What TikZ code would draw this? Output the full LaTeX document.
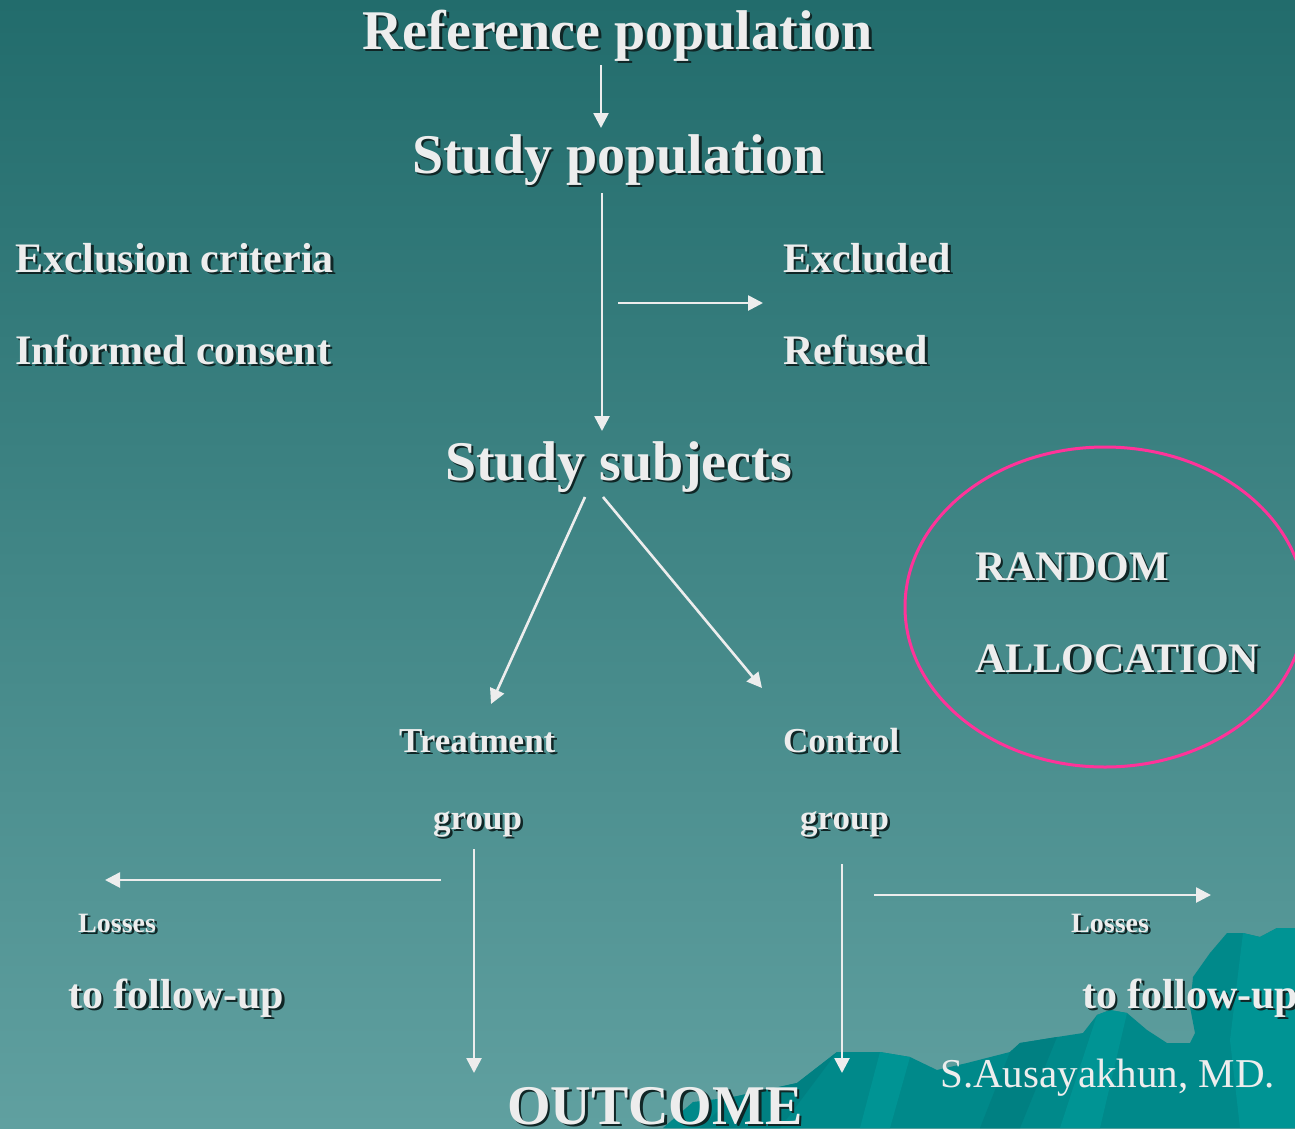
\documentclass[tikz,border=0pt]{standalone}
\usepackage{fontspec}
\setmainfont{Liberation Serif}
\usetikzlibrary{arrows.meta}
\definecolor{bgtop}{RGB}{34,108,108}
\definecolor{bgbot}{RGB}{96,160,160}
\definecolor{ink}{RGB}{237,237,237}
\definecolor{shade}{RGB}{16,38,38}
\definecolor{hill}{RGB}{0,137,138}
\definecolor{hilllight}{RGB}{0,148,148}
\definecolor{hilldark}{RGB}{0,128,130}
\definecolor{ring}{RGB}{255,51,153}
% text with a dark drop shadow to the lower right
\newcommand{\shadowed}[1]{\rlap{\kern2.5pt\raisebox{-2.5pt}{\color{shade}#1}}#1}
\tikzset{
  lbl/.style={anchor=base west, inner sep=0pt, text=ink, font=\bfseries\fontsize{#1}{#1}\selectfont},
  flow/.style={draw=ink, line width=2.6pt, -{Triangle[length=15pt,width=15pt]}},
}
\begin{document}
\begin{tikzpicture}[x=1pt,y=-1pt]
\useasboundingbox (0,0) rectangle (1295,1128);
\clip (0,0) rectangle (1295,1128);
% background
\shade[top color=bgtop, bottom color=bgbot] (0,0) rectangle (1295,1128);
% hills in the lower right corner
\fill[hill] (663,1128) -- (693,1102) -- (733,1097) -- (797,1083) -- (837,1052)
  -- (880,1052) -- (910,1057) -- (937,1070) -- (967,1063) -- (1010,1052)
  -- (1020,1043) -- (1057,1037) -- (1083,1033) -- (1097,1015) -- (1110,1010)
  -- (1127,1013) -- (1147,1030) -- (1167,1043) -- (1190,1043) -- (1195,1033)
  -- (1190,1007) -- (1193,977) -- (1210,953) -- (1227,933) -- (1243,933)
  -- (1260,937) -- (1277,928) -- (1295,928) -- (1295,1128) -- cycle;
\fill[hilllight] (880,1052) -- (910,1057) -- (890,1128) -- (860,1128) -- cycle;
\fill[hilllight] (1097,1015) -- (1110,1010) -- (1127,1013) -- (1100,1128) -- (1060,1128) -- cycle;
\fill[hilllight] (1243,933) -- (1260,937) -- (1277,928) -- (1295,928) -- (1295,1128) -- (1240,1128) -- (1230,1040) -- cycle;
\fill[hilldark] (733,1097) -- (797,1083) -- (837,1052) -- (780,1128) -- (700,1128) -- cycle;
\fill[hilldark] (1010,1052) -- (1020,1043) -- (1057,1037) -- (1020,1128) -- (980,1128) -- cycle;
% texts
\node[lbl=56] (ref) at (362,49) {\shadowed{Reference population}};
\node[lbl=56] (studypop) at (412,173) {\shadowed{Study population}};
\node[lbl=42] (crit) at (15,272) {\shadowed{Exclusion criteria}};
\node[lbl=42] (consent) at (15,364) {\shadowed{Informed consent}};
\node[lbl=42] (excl) at (783,272) {\shadowed{Excluded}};
\node[lbl=42] (refused) at (783,364) {\shadowed{Refused}};
\node[lbl=56] (subjects) at (445,480) {\shadowed{Study subjects}};
\node[lbl=42] (random) at (975,580) {\shadowed{RANDOM}};
\node[lbl=42] (alloc) at (975,672) {\shadowed{ALLOCATION}};
\node[lbl=35] (treat) at (399,752) {\shadowed{Treatment}};
\node[lbl=35] (tgroup) at (433,829) {\shadowed{group}};
\node[lbl=35] (ctrl) at (783,752) {\shadowed{Control}};
\node[lbl=35] (cgroup) at (800,829) {\shadowed{group}};
\node[lbl=28] (lossL) at (78,932) {\shadowed{Losses}};
\node[lbl=42] (followL) at (68,1008) {\shadowed{to follow-up}};
\node[lbl=28] (lossR) at (1071,932) {\shadowed{Losses}};
\node[lbl=42] (followR) at (1082,1008) {\shadowed{to follow-up}};
\node[lbl=56] (outcome) at (507,1124) {\shadowed{OUTCOME}};
\node[anchor=base west, inner sep=0pt, text=ink, font=\fontsize{41}{41}\selectfont] (author) at (940,1087) {S.Ausayakhun, MD.};
% random allocation ring
\draw[ring, line width=3pt] (1105,607) ellipse [x radius=200, y radius=160];
% connector end points
\coordinate (a1s) at (601,65);   \coordinate (a1e) at (601,128);
\coordinate (a2s) at (602,193);  \coordinate (a2e) at (602,431);
\coordinate (a3s) at (618,303);  \coordinate (a3e) at (763,303);
\coordinate (a4s) at (585,497);  \coordinate (a4e) at (491,704);
\coordinate (a5s) at (603,497);  \coordinate (a5e) at (762,688);
\coordinate (a6s) at (441,880);  \coordinate (a6e) at (105,880);
\coordinate (a7s) at (474,849);  \coordinate (a7e) at (474,1073);
\coordinate (a8s) at (874,895);  \coordinate (a8e) at (1211,895);
\coordinate (a9s) at (842,864);  \coordinate (a9e) at (842,1073);
\draw[flow] (a1s) -- (a1e);
\draw[flow] (a2s) -- (a2e);
\draw[flow] (a3s) -- (a3e);
\draw[flow] (a4s) -- (a4e);
\draw[flow] (a5s) -- (a5e);
\draw[flow] (a6s) -- (a6e);
\draw[flow] (a7s) -- (a7e);
\draw[flow] (a8s) -- (a8e);
\draw[flow] (a9s) -- (a9e);
\end{tikzpicture}
\end{document}
